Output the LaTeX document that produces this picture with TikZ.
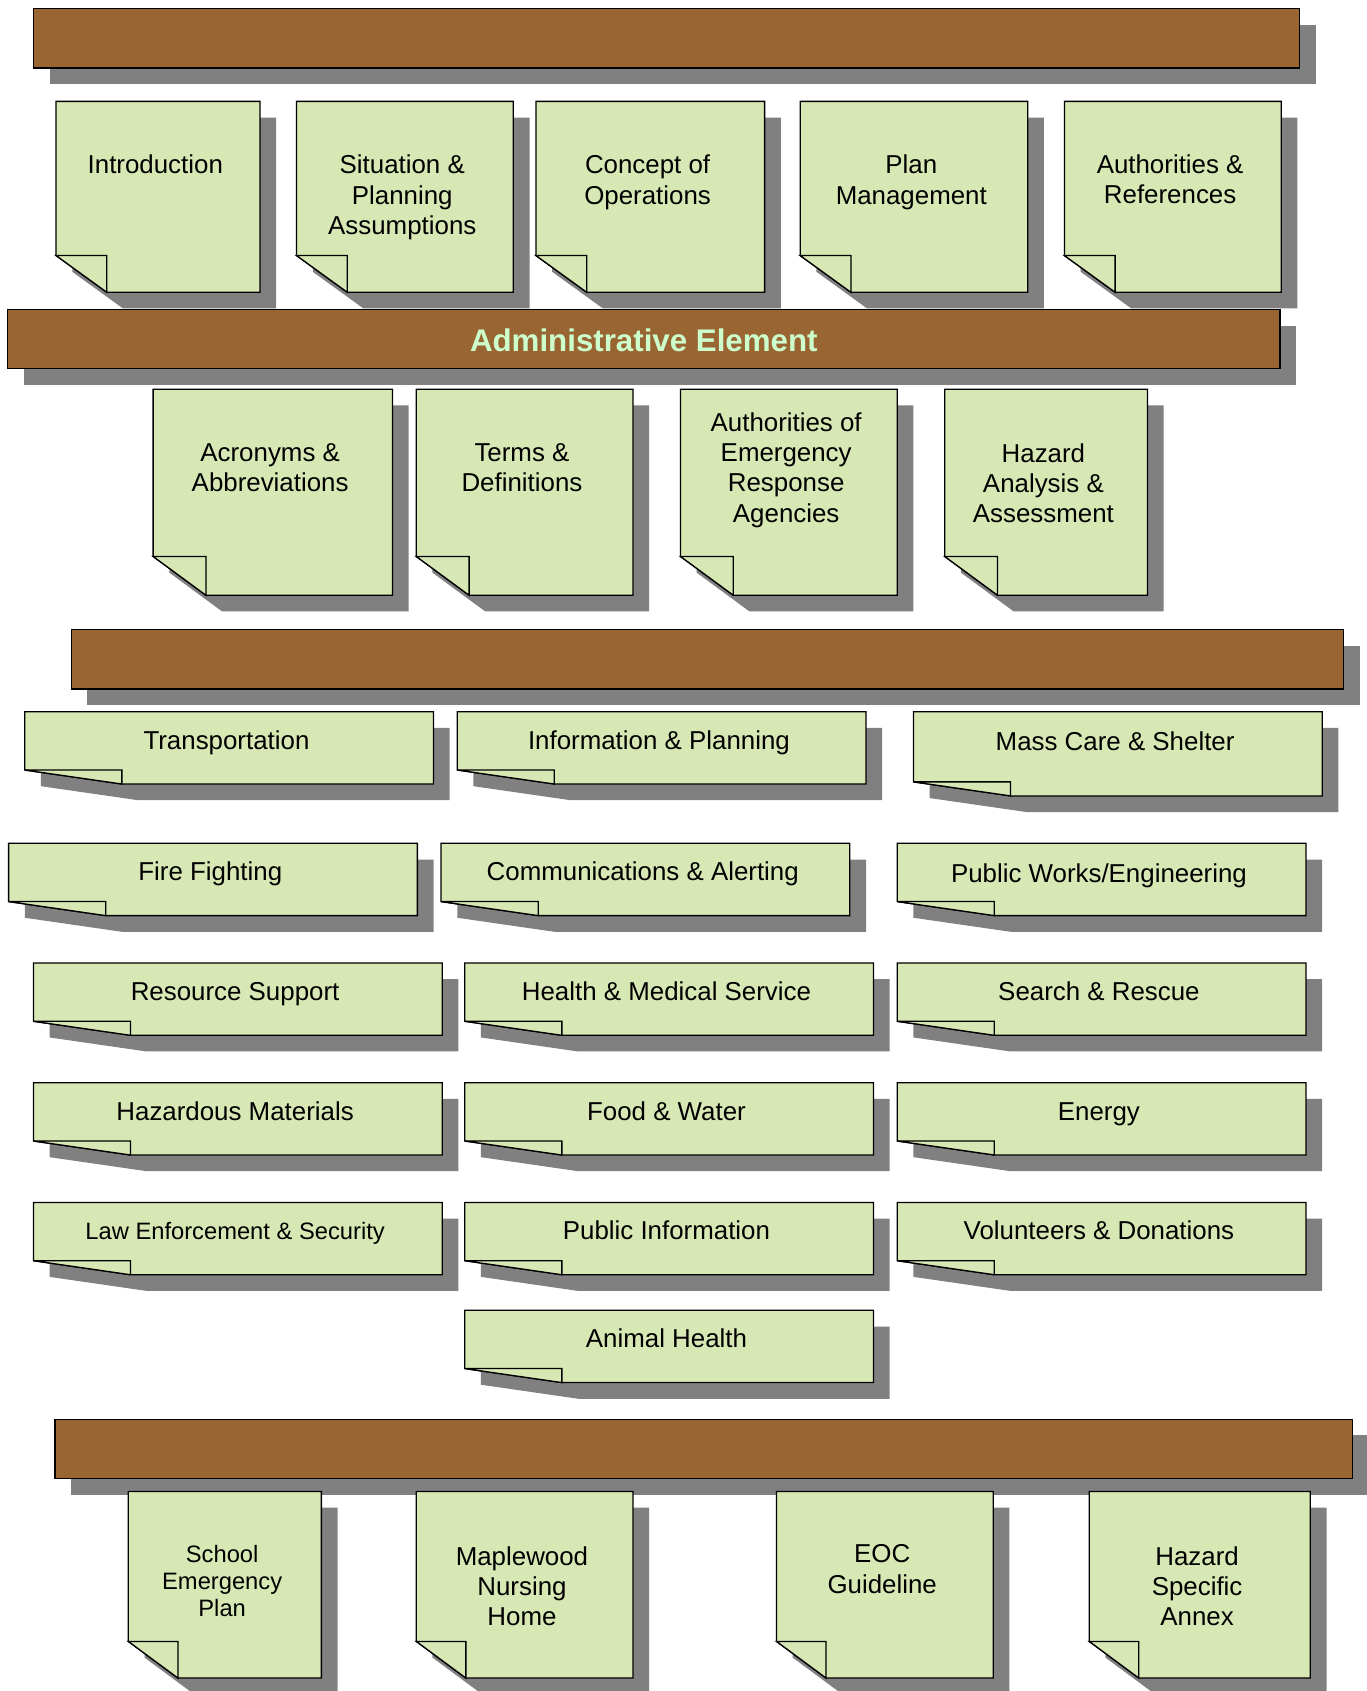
\documentclass[tikz,border=0pt]{standalone}
\usepackage{fontspec}
\setmainfont{Liberation Sans}
\usetikzlibrary{shadows}
\definecolor{barbrown}{HTML}{996633}
\definecolor{notegreen}{HTML}{D8E8B4}
\definecolor{shadowgray}{HTML}{808080}
\definecolor{titlegreen}{HTML}{CCFFCC}
\newcommand{\notefont}{\fontsize{24}{28}\selectfont}
\newcommand{\smallnote}{\fontsize{22}{25}\selectfont}
\newcommand{\titlefont}{\fontsize{29}{34}\selectfont\bfseries}
\tikzset{
  castshadow/.style={drop shadow={shadow xshift=15pt,shadow yshift=-15pt,fill=shadowgray,opacity=1}},
  bar/.style={draw=black,fill=barbrown,line width=1.2pt,inner sep=0pt,minimum height=55pt,castshadow},
  page/.style={draw=black,fill=notegreen,line width=1.2pt,castshadow},
  fold/.style={draw=black,fill=notegreen,line width=1.2pt},
  notetext/.style={font=\notefont,align=center,inner sep=0pt,xshift=-2.5pt},
}
% [node options], name, left, top, right, bottom, text y, text; fold size in \foldw, \foldh
\newcommand{\docpage}[8][]{%
  \draw[page] (#3,#4) -- (#5,#4) -- (#5,#6) -- (#3+\foldw,#6) -- (#3,#6-\foldh) -- cycle;
  \draw[fold] (#3,#6-\foldh) -- (#3+\foldw,#6-\foldh) -- (#3+\foldw,#6) -- cycle;
  \node[notetext,#1] (#2) at ({(#3+#5)/2},#7) {#8};
}

\begin{document}
\begin{tikzpicture}[x=1pt,y=-1pt]
  \useasboundingbox (0,0) rectangle (1267,1568);

  % basic plan
  \def\foldw{47}\def\foldh{34}
  \node[bar,minimum width=1174pt] (barplan) at (618,35.5) {};
  \docpage{intro}{52}{94}{241}{271}{152}{Introduction}
  \docpage{situation}{275}{94}{476}{271}{183}{Situation \&\\Planning\\Assumptions}
  \docpage{concept}{497}{94}{709}{271}{169}{Concept of\\Operations}
  \docpage{planmgmt}{742}{94}{953}{271}{169}{Plan\\Management}
  \docpage{authref}{987}{94}{1188}{271}{166}{Authorities \&\\References}

  % administrative element
  \def\foldw{49}\def\foldh{36}
  \node[bar,minimum width=1180pt] (baradmin) at (597,314.5) {};
  \node[font=\titlefont,text=titlegreen,inner sep=0pt] (admintitle) at (597,316) {Administrative Element};
  \docpage{acronyms}{142}{361}{364}{552}{434}{Acronyms \&\\Abbreviations}
  \docpage{terms}{386}{361}{587}{552}{434}{Terms \&\\Definitions}
  \docpage{authagency}{631}{361}{832}{552}{436}{Authorities of\\Emergency\\Response\\Agencies}
  \docpage{hazanalysis}{876}{361}{1064}{552}{448}{Hazard\\Analysis \&\\Assessment}

  % functional annexes
  \def\foldw{90}\def\foldh{13}
  \node[bar,minimum width=1180pt] (barfunc) at (656,611.5) {};
  \docpage{transport}{23}{660}{402}{727}{689}{Transportation}
  \docpage{infoplan}{424}{660}{803}{727}{689}{Information \& Planning}
  \docpage{masscare}{847}{660}{1226}{738}{687}{Mass Care \& Shelter}
  \docpage{fire}{8}{782}{387}{849}{810}{Fire Fighting}
  \docpage{comms}{409}{782}{788}{849}{810}{Communications \& Alerting}
  \docpage{pubworks}{832}{782}{1211}{849}{812}{Public Works/Engineering}
  \docpage{resource}{31}{893}{410}{960}{922}{Resource Support}
  \docpage{health}{431}{893}{810}{960}{919}{Health \& Medical Service}
  \docpage{search}{832}{893}{1211}{960}{919}{Search \& Rescue}
  \docpage{hazmat}{31}{1004}{410}{1071}{1030}{Hazardous Materials}
  \docpage{food}{431}{1004}{810}{1071}{1030}{Food \& Water}
  \docpage{energy}{832}{1004}{1211}{1071}{1033}{Energy}
  \docpage[font=\smallnote]{law}{31}{1115}{410}{1182}{1144}{Law Enforcement \& Security}
  \docpage{pubinfo}{431}{1115}{810}{1182}{1141}{Public Information}
  \docpage{volunteers}{832}{1115}{1211}{1182}{1141}{Volunteers \& Donations}
  \docpage{animal}{431}{1215}{810}{1282}{1241}{Animal Health}

  % supporting plans
  \def\foldw{46}\def\foldh{34}
  \node[bar,minimum width=1203pt] (barsupport) at (652.5,1343.5) {};
  \docpage[font=\smallnote]{school}{119}{1383}{298}{1556}{1466}{School\\Emergency\\Plan}
  \docpage{maplewood}{386}{1383}{587}{1556}{1471}{Maplewood\\Nursing\\Home}
  \docpage{eoc}{720}{1383}{921}{1556}{1455}{EOC\\Guideline}
  \docpage{hazannex}{1010}{1383}{1215}{1556}{1471}{Hazard\\Specific\\Annex}
\end{tikzpicture}
\end{document}
